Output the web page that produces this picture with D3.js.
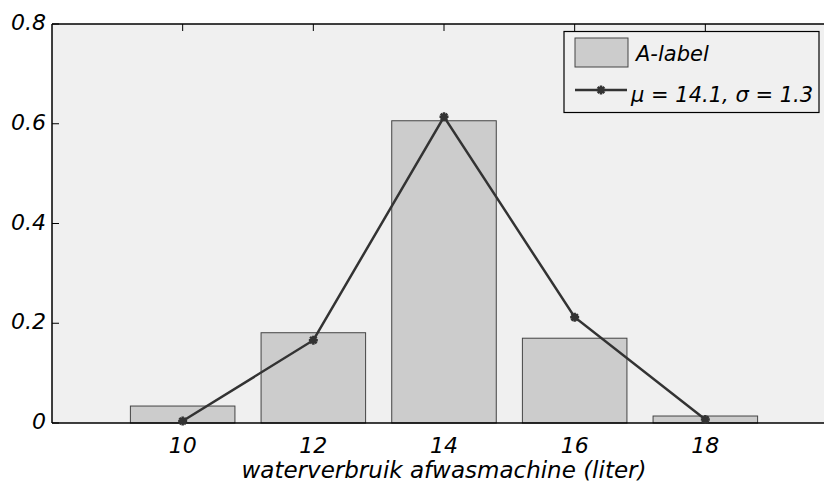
<!DOCTYPE html>
<html>
<head>
<meta charset="utf-8">
<script src="https://cdn.jsdelivr.net/npm/d3@7"></script>
<style>
  html, body { margin: 0; padding: 0; background: #ffffff; }
  svg { display: block; }
  text { font-family: "DejaVu Sans", "Open Sans", sans-serif; font-style: oblique; fill: #000; }
</style>
</head>
<body>
<svg id="chart" width="824" height="484"></svg>
<script>
// Histogram of dishwasher water use with a fitted normal curve
const bins = [10, 12, 14, 16, 18];
const barValues = [0.034, 0.181, 0.606, 0.170, 0.014];
const fitValues = [0.004, 0.166, 0.614, 0.212, 0.007];
const yTicks = [0, 0.2, 0.4, 0.6, 0.8];
const yTickLabels = ["0", "0.2", "0.4", "0.6", "0.8"];
const xTickLabels = ["10", "12", "14", "16", "18"];
const barLabel = "A-label";
const fitLabel = "\u03bc = 14.1, \u03c3 = 1.3";
const xTitle = "waterverbruik afwasmachine (liter)";
const binWidth = 1.6;

const svg = d3.select("#chart");
const mLeft = 52, mTop = 24, mBottom = 423;

const x = d3.scaleLinear().domain([8, 20]).range([mLeft, 836]);
const y = d3.scaleLinear().domain([0, 0.8]).range([mBottom, mTop]);

const plotRight = x.range()[1];

// plot background
svg.append("rect")
  .attr("x", mLeft).attr("y", mTop)
  .attr("width", plotRight - mLeft).attr("height", mBottom - mTop)
  .attr("fill", "#f0f0f0");

// bars
svg.append("g").selectAll("rect")
  .data(bins.map((b, i) => ({ b, v: barValues[i] })))
  .join("rect")
  .attr("x", d => x(d.b - binWidth / 2))
  .attr("y", d => y(d.v))
  .attr("width", d => x(d.b + binWidth / 2) - x(d.b - binWidth / 2))
  .attr("height", d => y(0) - y(d.v))
  .attr("fill", "#cccccc")
  .attr("stroke", "#444")
  .attr("stroke-width", 1);

// axes: ticks drawn inward, labels outward
const tickLen = 7;
const axisG = svg.append("g");
axisG.append("line").attr("x1", mLeft).attr("x2", mLeft).attr("y1", mTop).attr("y2", mBottom)
  .attr("stroke", "#000").attr("stroke-width", 1.5);
axisG.append("line").attr("x1", mLeft).attr("x2", plotRight).attr("y1", mTop).attr("y2", mTop)
  .attr("stroke", "#000").attr("stroke-width", 1.5);
axisG.append("line").attr("x1", mLeft).attr("x2", plotRight).attr("y1", mBottom).attr("y2", mBottom)
  .attr("stroke", "#000").attr("stroke-width", 1.5);

// y ticks
yTicks.forEach((t, i) => {
  axisG.append("line")
    .attr("x1", mLeft).attr("x2", mLeft + tickLen)
    .attr("y1", y(t)).attr("y2", y(t))
    .attr("stroke", "#000").attr("stroke-width", 1);
  axisG.append("text")
    .attr("x", mLeft - 6).attr("y", y(t) + 6)
    .attr("text-anchor", "end")
    .attr("font-size", 22)
    .text(yTickLabels[i]);
});

// x ticks (top, inward) and labels
bins.forEach((b, i) => {
  axisG.append("line")
    .attr("x1", x(b)).attr("x2", x(b))
    .attr("y1", mTop).attr("y2", mTop + tickLen)
    .attr("stroke", "#000").attr("stroke-width", 1);
  axisG.append("text")
    .attr("x", x(b)).attr("y", 453)
    .attr("text-anchor", "middle")
    .attr("font-size", 22)
    .text(xTickLabels[i]);
});

// x axis title
svg.append("text")
  .attr("x", x(14)).attr("y", 478)
  .attr("text-anchor", "middle")
  .attr("font-size", 23)
  .text(xTitle);

// fitted curve
const line = d3.line().x((d, i) => x(bins[i])).y(d => y(d));
svg.append("path")
  .datum(fitValues)
  .attr("d", line)
  .attr("fill", "none")
  .attr("stroke", "#333")
  .attr("stroke-width", 2.5);

function asterisk(g, cx, cy, r) {
  const p = d3.path();
  p.moveTo(cx - r, cy); p.lineTo(cx + r, cy);
  p.moveTo(cx, cy - r); p.lineTo(cx, cy + r);
  const d = r * 0.72;
  p.moveTo(cx - d, cy - d); p.lineTo(cx + d, cy + d);
  p.moveTo(cx - d, cy + d); p.lineTo(cx + d, cy - d);
  g.append("path").attr("d", p.toString())
    .attr("stroke", "#333").attr("stroke-width", 2.5).attr("fill", "none");
}
const markG = svg.append("g");
fitValues.forEach((v, i) => asterisk(markG, x(bins[i]), y(v), 4.5));

// legend
const lg = svg.append("g");
lg.append("rect")
  .attr("x", 564).attr("y", 31.5).attr("width", 255).attr("height", 81)
  .attr("fill", "#f0f0f0").attr("stroke", "#000").attr("stroke-width", 1.2);
lg.append("rect")
  .attr("x", 575).attr("y", 38).attr("width", 53).attr("height", 29)
  .attr("fill", "#cccccc").attr("stroke", "#444").attr("stroke-width", 1);
lg.append("text").attr("x", 636).attr("y", 61).attr("font-size", 21).text(barLabel);
lg.append("line").attr("x1", 575).attr("x2", 627).attr("y1", 90).attr("y2", 90)
  .attr("stroke", "#333").attr("stroke-width", 2.5);
asterisk(lg, 601, 90, 4.5);
lg.append("text").attr("x", 631).attr("y", 102).attr("font-size", 21).text(fitLabel);
</script>
</body>
</html>
